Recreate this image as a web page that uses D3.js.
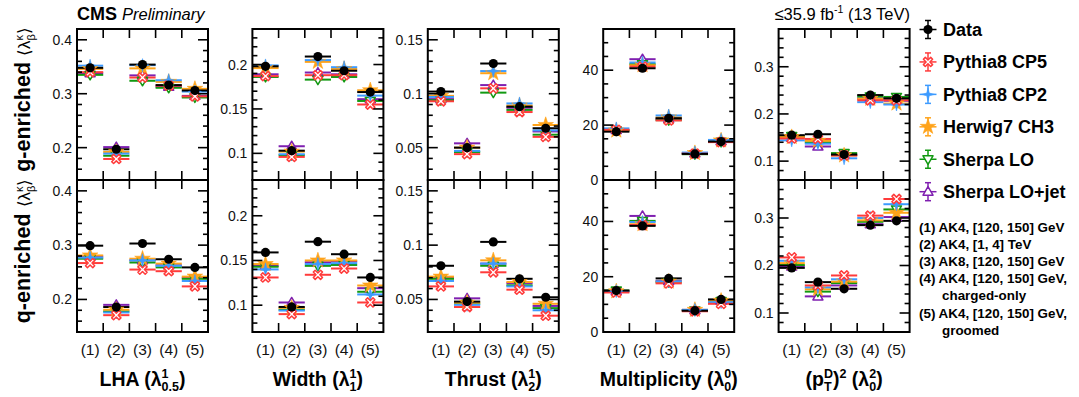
<!DOCTYPE html>
<html><head><meta charset="utf-8">
<script src="https://cdn.jsdelivr.net/npm/d3@7"></script>
<style>
html,body{margin:0;padding:0;background:#fff;}
svg text{white-space:pre;font-family:"Liberation Sans",Arial,Helvetica,sans-serif;}
</style></head>
<body><svg id="c" width="1079" height="397"></svg>
<script>
// ---------------- data ----------------
const bins = ["(1)","(2)","(3)","(4)","(5)"];
const seriesNames = ["Data","Pythia8 CP5","Pythia8 CP2","Herwig7 CH3","Sherpa LO","Sherpa LO+jet"];
const seriesColors = ["#000000","#ff3b3b","#3d9bff","#ffa31a","#119911","#7f1fb0"];
const seriesMarkers = ["dot","xopen","star4","star5","tridown","triup"];
// rows: Data, CP5, CP2, Herwig, Sherpa LO, Sherpa LO+jet ; columns: bins (1)..(5)
const lhaG = [
  [0.348,0.197,0.354,0.316,0.306],
  [0.340,0.179,0.330,0.315,0.295],
  [0.352,0.189,0.353,0.325,0.304],
  [0.346,0.192,0.347,0.322,0.309],
  [0.335,0.185,0.324,0.311,0.293],
  [0.338,0.201,0.334,0.313,0.296]];
const lhaQ = [
  [0.299,0.186,0.303,0.274,0.259],
  [0.267,0.171,0.255,0.252,0.224],
  [0.277,0.176,0.272,0.262,0.234],
  [0.281,0.181,0.275,0.266,0.242],
  [0.275,0.178,0.268,0.259,0.238],
  [0.279,0.190,0.272,0.263,0.240]];
const widthG = [
  [0.198,0.103,0.209,0.193,0.169],
  [0.187,0.096,0.188,0.188,0.155],
  [0.199,0.099,0.205,0.197,0.165],
  [0.196,0.102,0.203,0.195,0.171],
  [0.186,0.098,0.183,0.186,0.159],
  [0.189,0.108,0.191,0.189,0.161]];
const widthQ = [
  [0.159,0.098,0.171,0.157,0.131],
  [0.131,0.090,0.134,0.141,0.103],
  [0.140,0.094,0.146,0.147,0.112],
  [0.146,0.097,0.150,0.150,0.122],
  [0.143,0.095,0.144,0.145,0.115],
  [0.144,0.103,0.148,0.149,0.119]];
const thrustG = [
  [0.102,0.050,0.128,0.088,0.068],
  [0.093,0.044,0.105,0.083,0.060],
  [0.097,0.047,0.121,0.091,0.066],
  [0.098,0.050,0.119,0.089,0.071],
  [0.094,0.046,0.101,0.085,0.062],
  [0.095,0.054,0.108,0.087,0.065]];
const thrustQ = [
  [0.081,0.048,0.103,0.069,0.052],
  [0.062,0.043,0.075,0.059,0.035],
  [0.067,0.045,0.083,0.062,0.040],
  [0.071,0.047,0.086,0.066,0.046],
  [0.069,0.046,0.081,0.063,0.042],
  [0.070,0.051,0.083,0.065,0.044]];
const multG = [
  [17.6,40.7,22.5,9.5,14.0],
  [18.3,41.3,21.7,9.6,13.8],
  [18.8,42.8,23.5,10.0,14.6],
  [18.0,41.8,22.8,9.8,14.4],
  [18.0,42.2,21.8,9.4,13.9],
  [18.2,44.0,22.3,9.7,14.2]];
const multQ = [
  [15.0,38.4,19.4,7.7,11.8],
  [14.3,38.7,17.6,7.5,10.2],
  [14.8,39.8,18.3,8.0,10.8],
  [14.7,39.0,18.2,8.0,11.3],
  [15.0,40.2,18.0,7.8,11.2],
  [14.8,42.0,18.5,8.0,11.4]];
const ptdG = [
  [0.155,0.157,0.114,0.240,0.233],
  [0.148,0.147,0.112,0.229,0.229],
  [0.144,0.137,0.106,0.225,0.220],
  [0.151,0.143,0.112,0.232,0.222],
  [0.153,0.140,0.117,0.237,0.236],
  [0.150,0.131,0.113,0.233,0.228]];
const ptdQ = [
  [0.195,0.165,0.151,0.285,0.294],
  [0.217,0.158,0.179,0.305,0.340],
  [0.210,0.154,0.171,0.300,0.329],
  [0.205,0.150,0.166,0.295,0.311],
  [0.201,0.145,0.163,0.292,0.318],
  [0.198,0.135,0.158,0.287,0.302]];
const lhaTicks = [0.2,0.3,0.4];
const widthTicks = [0.1,0.15,0.2];
const thrustTicks = [0.05,0.1,0.15];
const multTicks = [0,20,40];
const ptdTicks = [0.1,0.2,0.3];
const noteLines = ["(1) AK4, [120, 150] GeV","(2) AK4, [1, 4] TeV","(3) AK8, [120, 150] GeV",
  "(4) AK4, [120, 150] GeV,","charged-only","(5) AK4, [120, 150] GeV,","groomed"];

// ---------------- layout ----------------
const svg = d3.select("#c");
const L = {left0:77, step:175.4, w:131, top:29, mid:180, bot:332};
const panels = [
  {g:lhaG, q:lhaQ, dom:[0.14,0.42], ticks:lhaTicks, minor:0.02,
   title:[{t:"LHA (",b:1},{sup:"1",sub:"0.5"},{t:")",b:1}]},
  {g:widthG, q:widthQ, dom:[0.07,0.24], ticks:widthTicks, minor:0.01,
   title:[{t:"Width (",b:1},{sup:"1",sub:"1"},{t:")",b:1}]},
  {g:thrustG, q:thrustQ, dom:[0.02,0.16], ticks:thrustTicks, minor:0.01,
   title:[{t:"Thrust (",b:1},{sup:"1",sub:"2"},{t:")",b:1}]},
  {g:multG, q:multQ, dom:[0,55], ticks:multTicks, minor:5,
   title:[{t:"Multiplicity (",b:1},{sup:"0",sub:"0"},{t:")",b:1}]},
  {g:ptdG, q:ptdQ, dom:[0.06,0.38], ticks:ptdTicks, minor:0.02,
   title:[{t:"(p",b:1},{sup:"D",sub:"T"},{t:")",b:1},{sup:"2"},{t:" (",b:1},{sup:"2",sub:"0"},{t:")",b:1}]}
];

function rich(parent, parts, size, small, supDy, subDy){
  const g = parent.append("g");
  let cx = 0;
  parts.forEach(p=>{
    if(p.sup!==undefined || p.sub!==undefined){
      let w = 0;
      if(p.sup!==undefined){
        const t=g.append("text").attr("x",cx).attr("y",-supDy).style("font-size",small+"px")
          .style("font-weight",p.nb?"normal":"bold").text(p.sup);
        w=Math.max(w,t.node().getComputedTextLength());
      }
      if(p.sub!==undefined){
        const t=g.append("text").attr("x",cx).attr("y",subDy).style("font-size",small+"px")
          .style("font-weight",p.nb?"normal":"bold").text(p.sub);
        w=Math.max(w,t.node().getComputedTextLength());
      }
      cx+=w;
    } else {
      const t=g.append("text").attr("x",cx).attr("y",0).style("font-size",(p.size||size)+"px")
        .style("font-weight",p.b?"bold":"normal").style("font-style",p.i?"italic":"normal").text(p.t);
      cx+=t.node().getComputedTextLength();
    }
  });
  return {g, w:cx};
}
panels.forEach(p=>{
  const out=[];
  p.title.forEach((part,i)=>{
    out.push(part);
    if(part.t && part.t.endsWith("(") && p.title[i+1] && p.title[i+1].sub!==undefined){
      out.push({t:"\u03bb",b:1});
    }
  });
  p.title=out;
});

function symbolPath(type){
  switch(type){
    case "xopen": {
      const a=1.9, r=4.6;
      const pts=[[0,-a],[r-a,-r],[r,-(r-a)],[a,0],[r,r-a],[r-a,r],[0,a],[-(r-a),r],[-r,r-a],[-a,0],[-r,-(r-a)],[-(r-a),-r]];
      return d3.line()(pts)+"Z";
    }
    case "star4": {
      const r=6.5, a=1.3;
      const pts=[[0,-r],[a,-a],[r,0],[a,a],[0,r],[-a,a],[-r,0],[-a,-a]];
      return d3.line()(pts)+"Z";
    }
    case "star5": return d3.symbol(d3.symbolStar, 75)();
    case "tridown": return d3.line()([[-5,-3.5],[5,-3.5],[0,5]])+"Z";
    case "triup": return d3.line()([[-5,3.5],[5,3.5],[0,-5]])+"Z";
  }
}
function drawMarker(g, type, color, x, y){
  if(type==="dot"){
    g.append("circle").attr("cx",x).attr("cy",y).attr("r",4.6).attr("fill","#000");
    return;
  }
  const filled = (type==="star4"||type==="star5");
  g.append("path").attr("d",symbolPath(type)).attr("transform",`translate(${x},${y})`)
    .attr("fill",filled?color:"#fff").attr("stroke",color)
    .attr("stroke-width",filled?0.6:1.5).attr("stroke-linejoin","round");
}

const drawOrder=[5,4,3,2,1,0];
panels.forEach((p,pi)=>{
  const x0 = L.left0 + pi*L.step;
  const x = d3.scaleBand().domain(bins).range([x0, x0+L.w]).paddingInner(0).paddingOuter(0);
  [["g",L.top,L.mid],["q",L.mid,L.bot]].forEach(([key,yt,yb])=>{
    const y = d3.scaleLinear().domain(p.dom).range([yb,yt]);
    const vals = p[key];
    const g = svg.append("g");
    drawOrder.forEach(si=>{
      vals[si].forEach((v,bi)=>{
        g.append("line").attr("x1",x(bins[bi])).attr("x2",x(bins[bi])+x.bandwidth())
          .attr("y1",y(v)).attr("y2",y(v)).attr("stroke",seriesColors[si]).attr("stroke-width",2);
      });
    });
    drawOrder.forEach(si=>{
      vals[si].forEach((v,bi)=>{
        drawMarker(g, seriesMarkers[si], seriesColors[si], x(bins[bi])+x.bandwidth()/2, y(v));
      });
    });
    const minors = d3.range(Math.ceil(p.dom[0]/p.minor-1e-9)*p.minor, p.dom[1]+1e-9, p.minor);
    const ax = svg.append("g").attr("stroke","#000").attr("stroke-width",1.6);
    minors.forEach(v=>{
      const isMajor = p.ticks.some(t=>Math.abs(t-v)<1e-9);
      const len = isMajor?10:5;
      ax.append("line").attr("x1",x0).attr("x2",x0+len).attr("y1",y(v)).attr("y2",y(v));
      ax.append("line").attr("x1",x0+L.w-len).attr("x2",x0+L.w).attr("y1",y(v)).attr("y2",y(v));
    });
    bins.slice(1).forEach(b=>{
      const xx = x(b);
      ax.append("line").attr("x1",xx).attr("x2",xx).attr("y1",yt).attr("y2",yt+9);
      ax.append("line").attr("x1",xx).attr("x2",xx).attr("y1",yb-9).attr("y2",yb);
    });
    svg.append("rect").attr("x",x0).attr("y",yt).attr("width",L.w).attr("height",yb-yt)
      .attr("fill","none").attr("stroke","#000").attr("stroke-width",2);
    const yAxis = d3.axisLeft(y).tickValues(p.ticks).tickSize(0).tickPadding(5).tickFormat(d3.format("~g"));
    const ya = svg.append("g").attr("transform",`translate(${x0},0)`).call(yAxis);
    ya.select(".domain").remove();
    ya.selectAll("text").style("font-size","14px").style("font-family","Liberation Sans, Arial, sans-serif").attr("fill","#111");
  });
  const xa = svg.append("g").attr("transform",`translate(0,${L.bot})`)
    .call(d3.axisBottom(x).tickSize(0).tickPadding(12));
  xa.select(".domain").remove();
  xa.selectAll("text").style("font-size","15.5px").style("font-family","Liberation Sans, Arial, sans-serif").attr("fill","#111");
  const r = rich(svg, p.title, 19.5, 12.5, 8, 5);
  r.g.attr("transform",`translate(${x0+L.w/2 - r.w/2},386)`);
});

// y-axis titles
[["g-enriched ",(L.top+L.mid)/2-5],["q-enriched ",(L.mid+L.bot)/2-5]].forEach(([lab,cy])=>{
  const parts=[{t:lab,b:1,size:21.5},{t:"\u27e8\u03bb",size:17},{sup:"\u03ba",sub:"\u03b2",nb:1},{t:"\u27e9",size:17}];
  const r = rich(svg, parts, 21.5, 11, 7, 5);
  r.g.attr("transform",`translate(30,${cy}) rotate(-90) translate(${-r.w/2},0)`);
});

const cms = rich(svg,[{t:"CMS ",b:1,size:18},{t:"Preliminary",i:1,size:16.5}],18,10,6,4);
cms.g.attr("transform",`translate(77,20)`);
const lumi = rich(svg,[{t:"\u226435.9 fb",size:16.5},{sup:"-1",nb:1},{t:" (13 TeV)",size:16.5}],16.5,10.5,7,4);
lumi.g.attr("transform",`translate(${910-lumi.w},20)`);

const legY = d3.scalePoint().domain(seriesNames).range([29.5,191.7]);
seriesNames.forEach((s,si)=>{
  const ly = legY(s), lx = 928;
  const lg = svg.append("g");
  const c = seriesColors[si];
  lg.append("line").attr("x1",lx-8.5).attr("x2",lx+8.5).attr("y1",ly).attr("y2",ly).attr("stroke",c).attr("stroke-width",1.5);
  lg.append("line").attr("x1",lx).attr("x2",lx).attr("y1",ly-9).attr("y2",ly+9).attr("stroke",c).attr("stroke-width",1.5);
  lg.append("line").attr("x1",lx-3).attr("x2",lx+3).attr("y1",ly-9).attr("y2",ly-9).attr("stroke",c).attr("stroke-width",1.5);
  lg.append("line").attr("x1",lx-3).attr("x2",lx+3).attr("y1",ly+9).attr("y2",ly+9).attr("stroke",c).attr("stroke-width",1.5);
  drawMarker(lg, seriesMarkers[si], c, lx, ly);
  lg.append("text").attr("x",943).attr("y",ly+6.5).style("font-size","18px").style("font-weight","bold").text(s);
});
noteLines.forEach((t,i)=>{
  const indent = (t==="charged-only"||t==="groomed");
  svg.append("text").attr("x",indent?942:919).attr("y",231.5+i*17.2)
    .style("font-size","13.4px").style("font-weight","bold").text(t);
});
</script></body></html>
